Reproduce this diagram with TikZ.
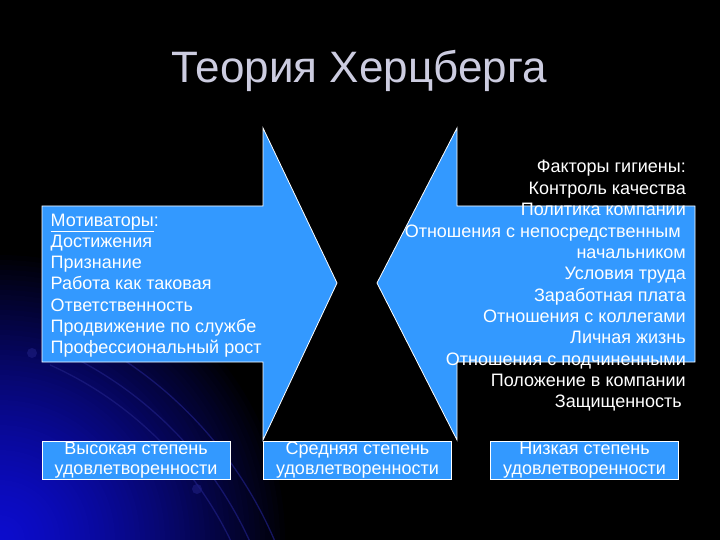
\documentclass[tikz,border=0pt]{standalone}
\usepackage{fontspec}
\setmainfont{Liberation Sans}
\definecolor{arrowblue}{RGB}{51,153,255}
\definecolor{titlegray}{RGB}{204,204,224}
\definecolor{arcblue}{RGB}{30,30,130}
\definecolor{glow}{RGB}{12,12,205}
\tikzset{
  body/.style={font=\fontsize{18}{21}\selectfont, text=white, inner sep=0pt},
  shapeblue/.style={fill=arrowblue, draw=white, line width=0.8pt, line join=miter},
  levelbox/.style={shapeblue, minimum width=188pt, minimum height=38pt, inner sep=0pt,
    align=center, text=white, font=\fontsize{18}{20}\selectfont},
  bgarc/.style={draw=arcblue, line width=1.3pt, opacity=0.7}
}
\begin{document}
\begin{tikzpicture}[x=1pt,y=-1pt]
\useasboundingbox (0,0) rectangle (720,540);
% background
\fill[black] (0,0) rectangle (720,540);
\begin{scope}
  \clip (0,0) rectangle (720,540);
  \foreach \r in {290,285,...,5} {
    \pgfmathsetmacro{\p}{100*(1-(\r/290)^1.4)}
    \fill[glow!\p!black] (0,540) circle (\r);
  }
\end{scope}
\begin{scope}
  \clip (50,360) rectangle (300,540);
  \draw[bgarc] (-100,700) circle (367);
  \draw[bgarc] (-100,700) circle (384);
  \draw[bgarc] (-100,700) circle (407);
\end{scope}
\fill[arcblue, opacity=0.6] (32,353) circle (5);
\fill[arcblue, opacity=0.6] (197,489) circle (5);
% title
\node[font=\fontsize{44}{50}\selectfont, text=titlegray, anchor=base, inner sep=0pt] (title) at (359,83) {Теория Херцберга};
% arrows
\draw[shapeblue] (42,206) -- (263,206) -- (263,128) -- (337,283) -- (263,440) -- (263,362) -- (42,362) -- cycle;
\draw[shapeblue] (695,206) -- (457,206) -- (457,128) -- (377,283) -- (457,440) -- (457,362) -- (695,362) -- cycle;
% left text
\foreach \t [count=\i] in {{\underline{Мотиваторы}:}, Достижения, Признание, Работа как таковая, Ответственность, Продвижение по службе, Профессиональный рост}
  \node[body, anchor=base west] (L\i) at (50.5, {226+21.3*(\i-1)}) {\t};
% right text
\foreach \t [count=\i] in {Факторы гигиены:, Контроль качества, Политика компании, {Отношения с непосредственным\kern5pt}, начальником, Условия труда, Заработная плата, Отношения с коллегами, Личная жизнь, Отношения с подчиненными, Положение в компании, {Защищенность\kern4pt}}
  \node[body, anchor=base east] (R\i) at (686, {173+21.36*(\i-1)}) {\t};
% bottom boxes
\node[levelbox] (high) at (136,460) {Высокая степень\\удовлетворенности};
\node[levelbox] (mid) at (357.5,460) {Средняя степень\\удовлетворенности};
\node[levelbox] (low) at (584.5,460) {Низкая степень\\удовлетворенности};
\end{tikzpicture}
\end{document}
